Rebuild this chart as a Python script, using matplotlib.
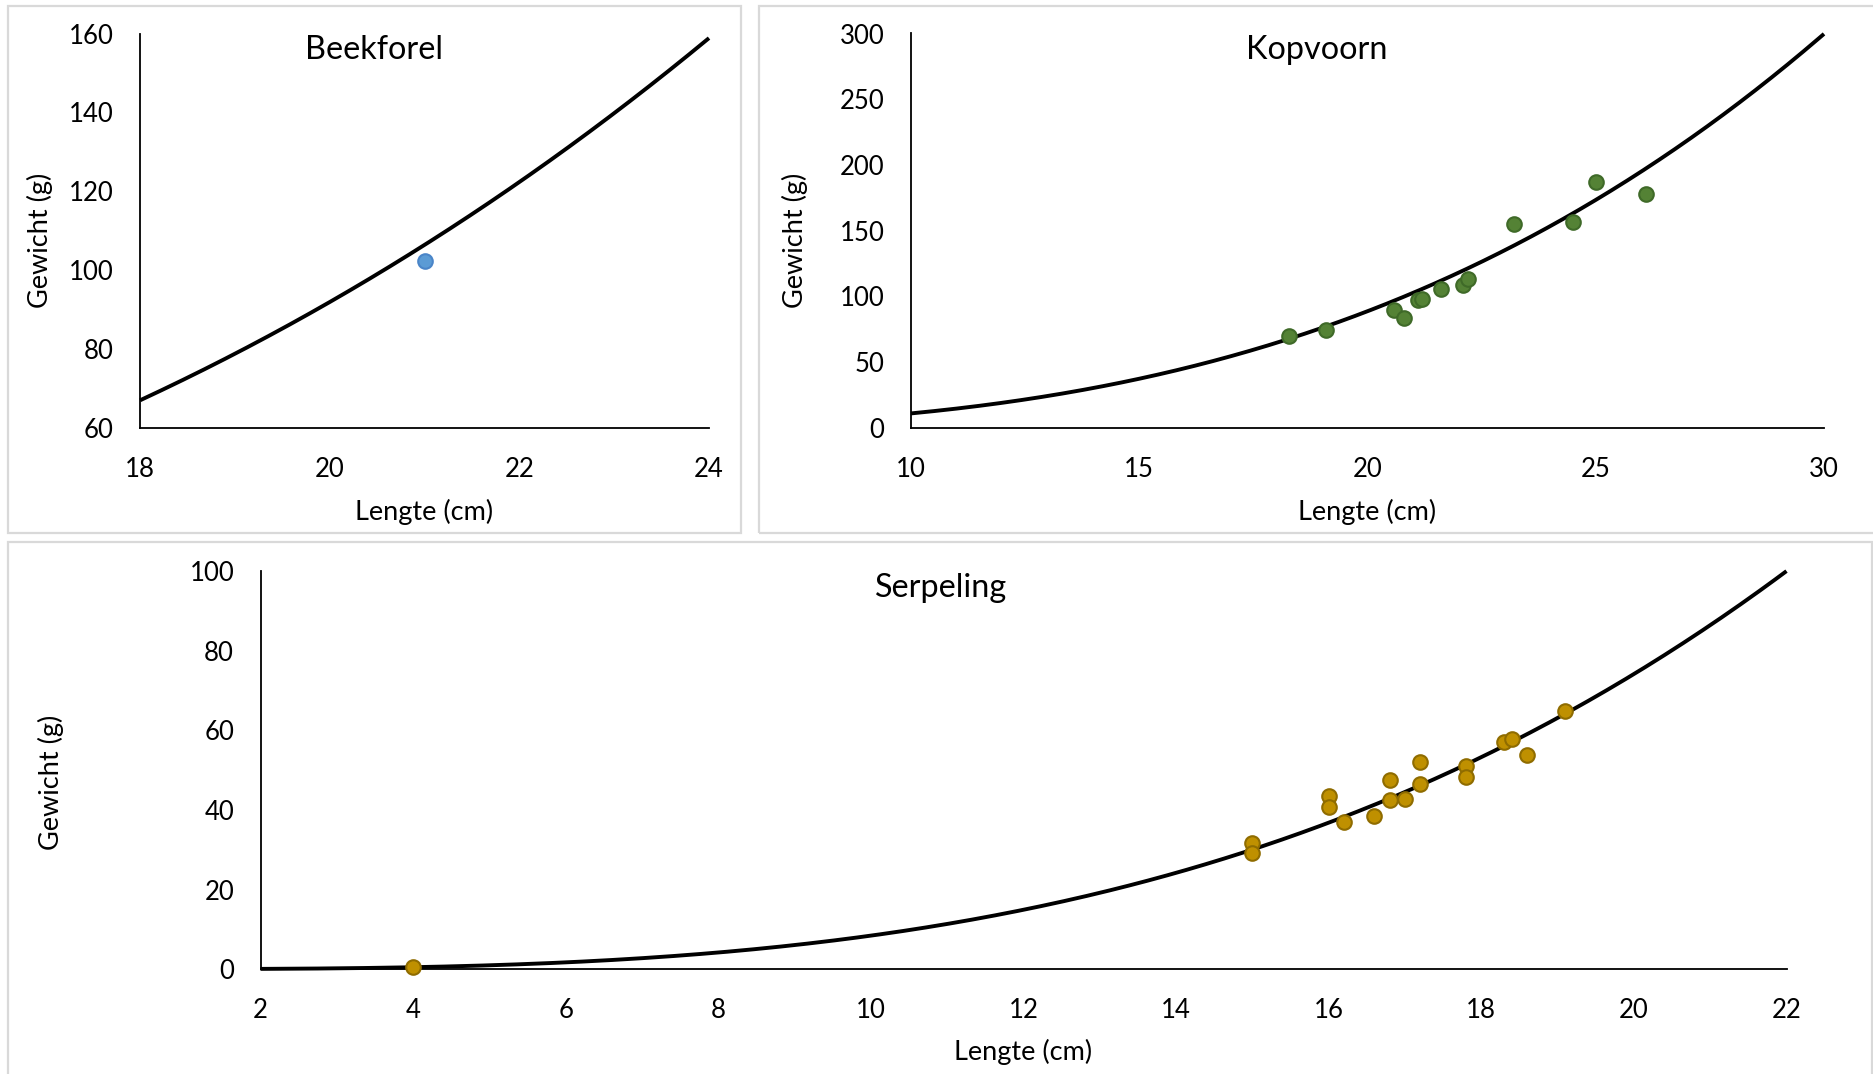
import numpy as np
import matplotlib
matplotlib.use("Agg")
import matplotlib.pyplot as plt
from matplotlib.patches import Rectangle

plt.rcParams['font.family'] = ['Lato', 'DejaVu Sans']

# ---------------- data ----------------
beek_len = [21.0]
beek_w = [102.4]

kop_len = [18.29, 19.1, 20.59, 20.8, 21.1, 21.19, 21.6, 22.09, 22.2, 23.2, 24.5, 25.0, 26.1]
kop_w = [70.1, 74.5, 89.4, 83.4, 97.3, 98.0, 105.4, 108.9, 113.0, 155.1, 156.4, 186.8, 178.1]

serp_len = [4.0, 15.0, 15.0, 16.0, 16.0, 16.2, 16.6, 16.8, 16.8, 17.0, 17.2, 17.2,
            17.8, 17.8, 18.3, 18.4, 18.6, 19.1]
serp_w = [0.5, 31.8, 29.1, 43.4, 40.7, 37.0, 38.4, 47.5, 42.4, 42.8, 52.1, 46.6,
          51.0, 48.3, 57.0, 57.8, 53.9, 64.9]

# fitted power-law trend lines W = a * L^b
beek_fit = (0.01149, 3.0)
kop_fit = (0.0111, 3.0)
serp_fit = (0.006094, 3.14)

beek_xticks = [18, 20, 22, 24]
beek_yticks = [60, 80, 100, 120, 140, 160]
kop_xticks = [10, 15, 20, 25, 30]
kop_yticks = [0, 50, 100, 150, 200, 250, 300]
serp_xticks = [2, 4, 6, 8, 10, 12, 14, 16, 18, 20, 22]
serp_yticks = [0, 20, 40, 60, 80, 100]

TICK_FS = 18.5
LABEL_FS = 19.5
TITLE_FS = 23.3

# ---------------- figure ----------------
W, H = 1874, 1074
fig = plt.figure(figsize=(W / 100, H / 100), dpi=100)


def fx(px):
    return px / W


def fy(py):
    return 1 - py / H


# panel frames
for (x0, y0, x1, y1) in [(8, 6, 741, 533), (759, 6, 1880, 533), (8, 542, 1872, 1080)]:
    fig.patches.append(Rectangle((fx(x0), fy(y1)), fx(x1 - x0), (y1 - y0) / H,
                                 transform=fig.transFigure, fill=False,
                                 edgecolor='#D9D9D9', linewidth=1.6, zorder=0))


def make_axes(box):
    x0, y0, x1, y1 = box
    ax = fig.add_axes([fx(x0), fy(y1), (x1 - x0) / W, (y1 - y0) / H])
    for s in ['top', 'right']:
        ax.spines[s].set_visible(False)
    for s in ['left', 'bottom']:
        ax.spines[s].set_color('black')
        ax.spines[s].set_linewidth(1.3)
    ax.tick_params(length=0, labelsize=TICK_FS)
    ax.tick_params(axis='x', pad=21)
    ax.tick_params(axis='y', pad=19)
    ax.set_facecolor('none')
    return ax


def draw(ax, xs, ys, fit, xlim, ylim, xt, yt, fc, ec):
    a, b = fit
    lx = np.linspace(xlim[0], xlim[1], 400)
    ax.plot(lx, a * lx ** b, color='black', lw=2.8, zorder=2, clip_on=False,
            solid_capstyle='butt')
    ax.scatter(xs, ys, s=110, facecolor=fc, edgecolor=ec, linewidth=1.5,
               zorder=3, clip_on=False)
    ax.set_xlim(*xlim)
    ax.set_ylim(*ylim)
    ax.set_xticks(xt)
    ax.set_yticks(yt)


ax1 = make_axes((140, 33.5, 709, 428))
draw(ax1, beek_len, beek_w, beek_fit, (18, 24), (60, 160), beek_xticks, beek_yticks,
     '#5B9BD5', '#4A85C8')

ax2 = make_axes((911, 33.5, 1824, 428))
draw(ax2, kop_len, kop_w, kop_fit, (10, 30), (0, 300), kop_xticks, kop_yticks,
     '#548235', '#3F6A28')

ax3 = make_axes((260.5, 571.2, 1786.5, 969.1))
draw(ax3, serp_len, serp_w, serp_fit, (2, 22), (0, 100), serp_xticks, serp_yticks,
     '#BF9000', '#8F6C00')

# titles
fig.text(fx(374), fy(59), 'Beekforel', fontsize=TITLE_FS, ha='center', va='baseline')
fig.text(fx(1317), fy(59), 'Kopvoorn', fontsize=TITLE_FS, ha='center', va='baseline')
fig.text(fx(941), fy(597), 'Serpeling', fontsize=TITLE_FS, ha='center', va='baseline')

# axis labels
fig.text(fx(424.5), fy(512), 'Lengte (cm)', fontsize=LABEL_FS, ha='center', va='center')
fig.text(fx(1367.5), fy(512), 'Lengte (cm)', fontsize=LABEL_FS, ha='center', va='center')
fig.text(fx(1023.5), fy(1052), 'Lengte (cm)', fontsize=LABEL_FS, ha='center', va='center')

fig.text(fx(39.5), fy(240), 'Gewicht (g)', fontsize=LABEL_FS, ha='center', va='center', rotation=90)
fig.text(fx(795), fy(240), 'Gewicht (g)', fontsize=LABEL_FS, ha='center', va='center', rotation=90)
fig.text(fx(51), fy(782), 'Gewicht (g)', fontsize=LABEL_FS, ha='center', va='center', rotation=90)

fig.savefig('out.png', dpi=100, facecolor='white')
